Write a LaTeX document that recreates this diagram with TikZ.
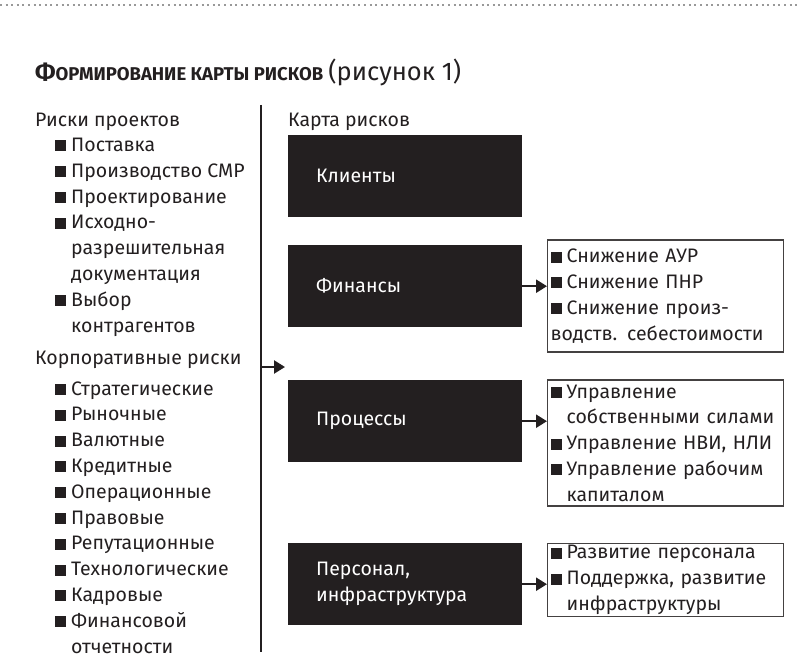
\documentclass[tikz,border=0pt]{standalone}
\usepackage{fontspec}
\setmainfont{Fira Sans}
\usetikzlibrary{arrows.meta,positioning}
\definecolor{ink}{HTML}{231F20}
\newcommand{\blt}{\rule{11pt}{11pt}\hspace{5pt}}
\newcommand{\ind}{\hspace*{16pt}}

\begin{document}
\begin{tikzpicture}[x=1pt,y=-1pt,
  every node/.style={inner sep=0pt,text=ink,font=\fontsize{19.5}{25.8}\selectfont},
  lst/.style={anchor=base west,align=left},
  mapbox/.style={fill=ink,text=white,anchor=north west,align=left,
    text width=178pt,inner xsep=28pt,minimum height=82pt},
  subbox/.style={draw=ink!85,line width=1.3pt,anchor=west,align=left,
    text width=230pt,inner xsep=3pt},
  tip/.style={-{Triangle[length=11pt,width=13pt]},line width=2.4pt,draw=ink}]
\useasboundingbox (0,0) rectangle (800,671);
% пунктир сверху
\draw[gray!80,line width=2pt,dash pattern=on 2pt off 3.6pt] (0,5) -- (800,5);
% заголовок
\node[anchor=base west] (title) at (35,81)
  {\textbf{\fontsize{24}{26}\selectfont Ф\fontsize{18.5}{26}\selectfont ОРМИРОВАНИЕ КАРТЫ РИСКОВ}
   \fontsize{25.5}{26}\selectfont(рисунок 1)};
% левая колонка (base = последняя строка)
\node[lst] (projhead) at (35,127) {Риски проектов};
\node[lst] (projlist) at (55,332) {\blt Поставка\\ \blt Производство СМР\\ \blt Проектирование\\
  \blt Исходно-\\ \ind разрешительная\\ \ind документация\\ \blt Выбор\\ \ind контрагентов};
\node[lst] (corphead) at (35,364) {Корпоративные риски};
\node[lst] (corplist) at (55,653) {\blt Стратегические\\ \blt Рыночные\\ \blt Валютные\\
  \blt Кредитные\\ \blt Операционные\\ \blt Правовые\\ \blt Репутационные\\
  \blt Технологические\\ \blt Кадровые\\ \blt Финансовой\\ \ind отчетности};
% разделитель
\coordinate (top) at (261,105);
\coordinate (bottom) at (261,652);
\draw[line width=2.4pt,ink] (top) -- (bottom);
\coordinate (trunk) at (261,367);
\coordinate (mapin) at (285,367);
\draw[tip] (trunk) -- (mapin);
% карта рисков
\node[lst] (maphead) at (288,127) {Карта рисков};
\node[mapbox] (clients) at (288,135) {Клиенты};
\node[mapbox] (finance) at (288,245) {Финансы};
\node[mapbox] (process) at (288,380) {Процессы};
\node[mapbox] (staff) at (288,543) {Персонал,\\инфраструктура};
% пояснения
\node[subbox,minimum height=112pt] (finlist) at (547,296)
  {\blt Снижение АУР\\ \blt Снижение ПНР\\ \blt Снижение произ-\\ водств. себестоимости};
\node[subbox,minimum height=126pt] (proclist) at (547,443)
  {\blt Управление\\ \ind собственными силами\\ \blt Управление НВИ, НЛИ\\
   \blt Управление рабочим\\ \ind капиталом};
\node[subbox,inner ysep=2pt] (stafflist) at (547,580)
  {\blt Развитие персонала\\ \blt Поддержка, развитие\\ \ind инфраструктуры};
% стрелки
\draw[tip] (finance.east) -- (finance.east -| finlist.west);
\draw[tip] (process.east) -- (process.east -| proclist.west);
\draw[tip] (staff.east) -- (staff.east -| stafflist.west);
\end{tikzpicture}
\end{document}
